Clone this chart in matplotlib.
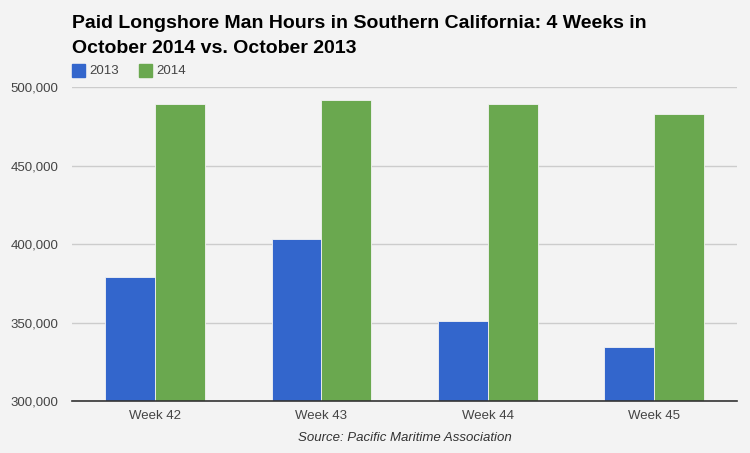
import numpy as np
import matplotlib.pyplot as plt
from matplotlib.ticker import FuncFormatter
from matplotlib.patches import Rectangle

plt.rcParams['font.family'] = ['Liberation Sans', 'DejaVu Sans']

weeks = ["Week 42", "Week 43", "Week 44", "Week 45"]
hours_2013 = [379200, 403400, 351300, 334600]
hours_2014 = [489500, 492200, 489500, 483200]
series = ["2013", "2014"]
colors = ["#3366cc", "#6aa84f"]
title_lines = ["Paid Longshore Man Hours in Southern California: 4 Weeks in",
               "October 2014 vs. October 2013"]

bg = "#f3f3f3"
fig = plt.figure(figsize=(7.5, 4.53), dpi=100, facecolor=bg)
ax = fig.add_axes([0.096, 0.114, 0.887, 0.693], facecolor=bg)

x = np.arange(len(weeks))
w = 0.30
ax.bar(x - w / 2, hours_2013, width=w, color=colors[0], edgecolor=bg, linewidth=0.6, zorder=3)
ax.bar(x + w / 2, hours_2014, width=w, color=colors[1], edgecolor=bg, linewidth=0.6, zorder=3)

ax.set_xlim(-0.5, len(weeks) - 0.5)
ax.set_ylim(300000, 500000)
ax.set_yticks(np.arange(300000, 500001, 50000))
ax.yaxis.set_major_formatter(FuncFormatter(lambda v, p: f"{int(v):,}"))
ax.grid(axis='y', color="#cccccc", linewidth=1, zorder=0)
ax.set_xticks(x)
ax.set_xticklabels(weeks)
ax.tick_params(length=0, labelsize=9.5, labelcolor="#444444")
ax.tick_params(axis='y', pad=10)
ax.tick_params(axis='x', pad=6)
for s in ["top", "right", "left"]:
    ax.spines[s].set_visible(False)
ax.spines["bottom"].set_color("#333333")
ax.spines["bottom"].set_linewidth(1.2)
ax.spines["bottom"].set_zorder(4)

# title, two lines placed by baseline
for i, line in enumerate(title_lines):
    fig.text(72 / 750, 1 - (27.5 + 25.5 * i) / 453, line,
             fontsize=14, fontweight='bold', color="black", va='baseline', ha='left')

# legend
lx = [72, 139]
for i in range(2):
    fig.patches.append(Rectangle((lx[i] / 750, 1 - 77 / 453), 12.5 / 750, 12.5 / 453,
                                 transform=fig.transFigure, color=colors[i]))
    fig.text((lx[i] + 17.5) / 750, 1 - 70.5 / 453, series[i], fontsize=9.5,
             color="#444444", va='center', ha='left')

fig.text(405 / 750, 1 - 438 / 453, "Source: Pacific Maritime Association",
         fontsize=9.5, style='italic', color="#333333", ha='center', va='center')

fig.savefig("out.png", dpi=100, facecolor=bg)
